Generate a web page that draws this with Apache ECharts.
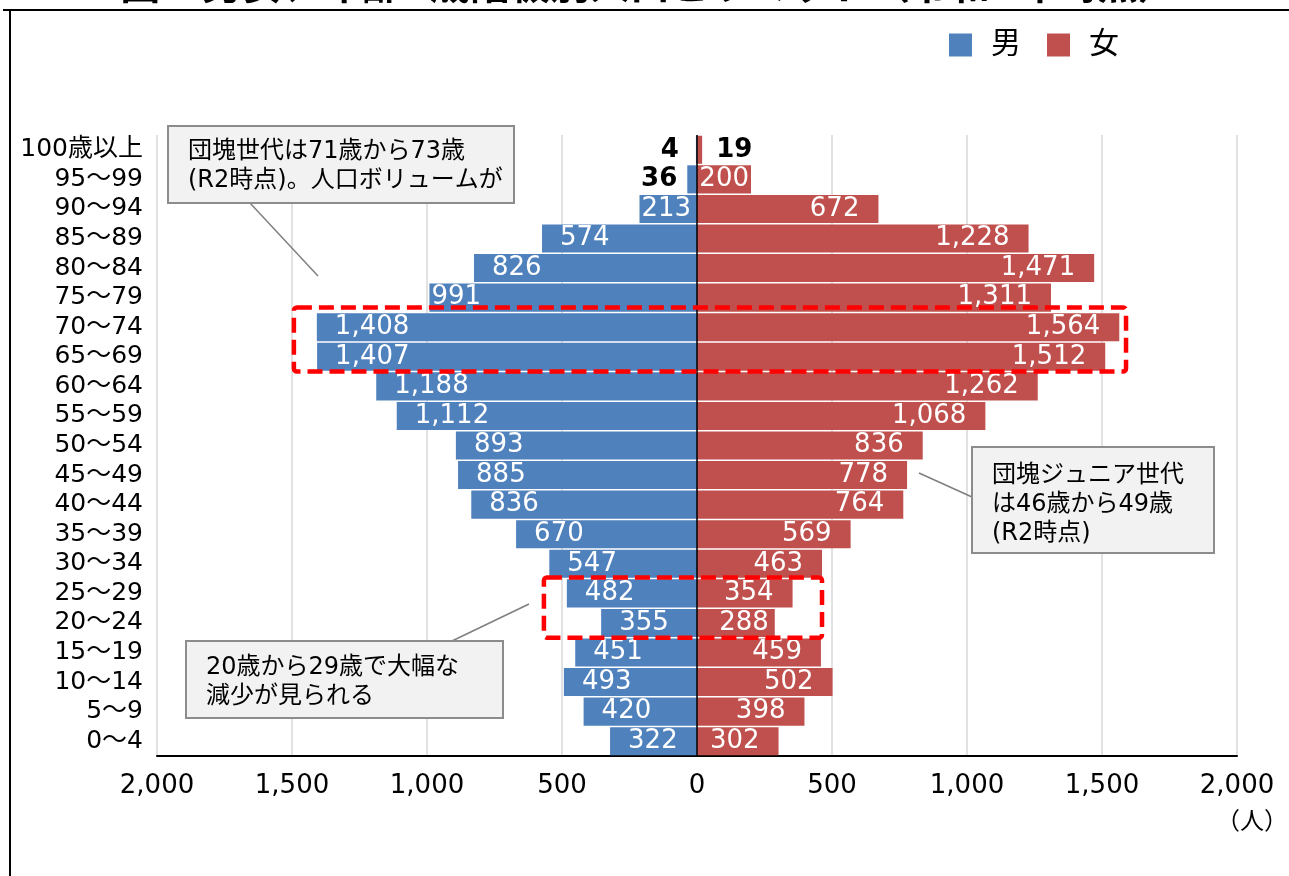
<!DOCTYPE html>
<html>
<head>
<meta charset="utf-8">
<script src="https://cdn.jsdelivr.net/npm/echarts@6/dist/echarts.min.js"></script>
<style>
  html, body { margin: 0; padding: 0; background: #fff; }
  #chart { width: 1289px; height: 876px; }
</style>
</head>
<body>
<div id="chart"></div>
<script>
// Age groups, oldest at the top
const categories = ['100歳以上', '95～99', '90～94', '85～89', '80～84', '75～79', '70～74',
  '65～69', '60～64', '55～59', '50～54', '45～49', '40～44', '35～39', '30～34',
  '25～29', '20～24', '15～19', '10～14', '5～9', '0～4'];
const male = [4, 36, 213, 574, 826, 991, 1408, 1407, 1188, 1112, 893, 885, 836, 670, 547,
  482, 355, 451, 493, 420, 322];
const female = [19, 200, 672, 1228, 1471, 1311, 1564, 1512, 1262, 1068, 836, 778, 764, 569, 463,
  354, 288, 459, 502, 398, 302];
const xTicks = [-2000, -1500, -1000, -500, 0, 500, 1000, 1500, 2000];

const FONT = "'DejaVu Sans', 'Noto Sans CJK JP', sans-serif";
const BLUE = '#4F81BD';
const RED = '#C0504D';
const fmt = v => Math.abs(v).toLocaleString('en-US');

// label nudges for bars that are too short for the standard inset
const maleLabelDist = { 2: 2, 5: 2 };
const femaleLabelDist = { 1: 2, 16: 6 };

function maleItem(v, i) {
  const item = { value: -v };
  if (v < 100) {
    item.label = { position: 'left', distance: v < 10 ? 17 : 10, color: '#000', fontWeight: 'bold' };
  } else if (maleLabelDist[i] !== undefined) {
    item.label = { distance: maleLabelDist[i] };
  }
  return item;
}
function femaleItem(v, i) {
  const item = { value: v };
  if (v < 100) {
    item.label = { position: 'right', distance: 14, color: '#000', fontWeight: 'bold' };
  } else if (femaleLabelDist[i] !== undefined) {
    item.label = { distance: femaleLabelDist[i] };
  }
  return item;
}

const chart = echarts.init(document.getElementById('chart'));

chart.setOption({
  animation: false,
  textStyle: { fontFamily: FONT },
  legend: {
    data: ['男', '女'],
    left: 944, top: 25,
    icon: 'rect', itemWidth: 23, itemHeight: 23, itemGap: 26,
    textStyle: { fontSize: 30, color: '#000', fontFamily: FONT, padding: [0, 0, 0, 14] }
  },
  grid: { left: 157, right: 52, top: 135, bottom: 120, containLabel: false },
  xAxis: {
    type: 'value', min: -2000, max: 2000, interval: 500,
    axisLine: { show: true, lineStyle: { color: '#000', width: 2 } },
    axisTick: { show: false },
    splitLine: { show: true, lineStyle: { color: '#d9d9d9', width: 1.5 } },
    axisLabel: {
      margin: 17, fontSize: 26, color: '#000', fontFamily: FONT,
      customValues: xTicks, formatter: v => fmt(v)
    }
  },
  yAxis: {
    type: 'category', data: categories, inverse: true,
    axisLine: { show: false }, axisTick: { show: false },
    axisLabel: { interval: 0, margin: 14, fontSize: 25, color: '#000', fontFamily: FONT }
  },
  series: [
    {
      name: '男', type: 'bar', data: male.map(maleItem),
      barGap: '-100%', barCategoryGap: '5%',
      itemStyle: { color: BLUE },
      label: {
        show: true, position: 'insideLeft', distance: 18,
        color: '#fff', fontSize: 26, fontFamily: FONT,
        formatter: p => fmt(p.value)
      },
      markLine: {
        silent: true, symbol: 'none',
        label: { show: false },
        lineStyle: { color: '#000', width: 1.5, type: 'solid' },
        data: [{ xAxis: 0 }]
      }
    },
    {
      name: '女', type: 'bar', data: female.map(femaleItem),
      barGap: '-100%', barCategoryGap: '5%',
      itemStyle: { color: RED },
      label: {
        show: true, position: 'insideRight', distance: 19,
        color: '#fff', fontSize: 26, fontFamily: FONT,
        formatter: p => fmt(p.value)
      }
    }
  ]
});

// ---- annotations ----
const xPx = v => chart.convertToPixel({ xAxisIndex: 0 }, v);
const yPx = c => chart.convertToPixel({ yAxisIndex: 0 }, c);
const band = yPx(categories[1]) - yPx(categories[0]);

// dashed highlight frames: [x from, x to, first category, last category, top padding]
const highlights = [
  [-1493, 1589, '70～74', '65～69', 5],
  [-567, 463, '25～29', '20～24', 1]
];

const graphics = [];

// outer frame of the figure
graphics.push({ type: 'line', shape: { x1: 3, y1: 10, x2: 1289, y2: 10 }, style: { stroke: '#000', lineWidth: 2 }, z: 100 });
graphics.push({ type: 'line', shape: { x1: 10, y1: 10, x2: 10, y2: 876 }, style: { stroke: '#000', lineWidth: 2 }, z: 100 });

// figure caption above the frame
graphics.push({
  type: 'text', x: 649, y: 9, z: 100,
  style: {
    text: '図2 男女、年齢5歳階級別人口ピラミッド（令和2年時点）',
    fontSize: 40, fontWeight: 'bold', fontFamily: FONT, fill: '#000',
    textAlign: 'center', textVerticalAlign: 'bottom'
  }
});

highlights.forEach(h => {
  const x1 = xPx(h[0]), x2 = xPx(h[1]);
  const y1 = yPx(h[2]) - band / 2 - h[4];
  const y2 = yPx(h[3]) + band / 2;
  graphics.push({
    type: 'rect', z: 50,
    shape: { x: x1, y: y1, width: x2 - x1, height: y2 - y1, r: 3 },
    style: { fill: 'none', stroke: '#ff0000', lineWidth: 4.5, lineDash: [15, 7] }
  });
});

// callout boxes with leader lines
const callouts = [
  { box: [168, 126, 346, 77], text: '団塊世代は71歳から73歳\n(R2時点)。人口ボリュームが', tx: 188, ty: 137, line: [250, 203, 318, 276] },
  { box: [972, 447, 242, 106], text: '団塊ジュニア世代\nは46歳から49歳\n(R2時点)', tx: 992, ty: 461, line: [919, 473, 972, 497] },
  { box: [186, 641, 317, 77], text: '20歳から29歳で大幅な\n減少が見られる', tx: 206, ty: 653, line: [452, 641, 529, 604] }
];
callouts.forEach(c => {
  graphics.push({
    type: 'line', z: 60,
    shape: { x1: c.line[0], y1: c.line[1], x2: c.line[2], y2: c.line[3] },
    style: { stroke: '#7f7f7f', lineWidth: 1.5 }
  });
  graphics.push({
    type: 'rect', z: 60,
    shape: { x: c.box[0], y: c.box[1], width: c.box[2], height: c.box[3] },
    style: { fill: '#f2f2f2', stroke: '#8c8c8c', lineWidth: 2 }
  });
  graphics.push({
    type: 'text', z: 61, x: c.tx, y: c.ty,
    style: { text: c.text, fontSize: 24, lineHeight: 29, fontFamily: FONT, fill: '#000' }
  });
});

// unit label
graphics.push({
  type: 'text', x: 1216, y: 811, z: 100,
  style: { text: '（人）', fontSize: 24, fontFamily: FONT, fill: '#000' }
});

chart.setOption({ graphic: graphics });
</script>
</body>
</html>
